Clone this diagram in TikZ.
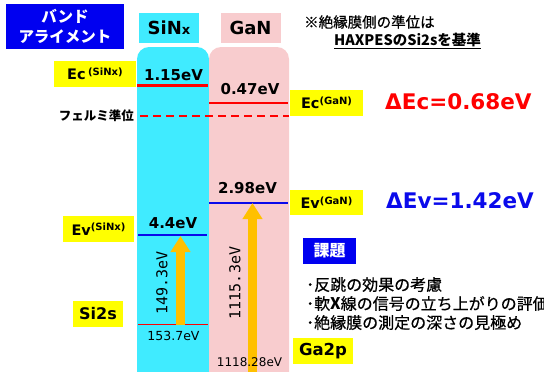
\documentclass[tikz,border=0pt]{standalone}
\usepackage{fontspec}
\setmainfont{DejaVu Sans}
\newfontfamily\jp{Noto Sans CJK JP}
\newfontfamily\jpm{Noto Sans CJK JP}[FakeBold=0.6]
\newfontfamily\monofnt{DejaVu Sans Mono}
\usetikzlibrary{arrows.meta}
\definecolor{cyanc}{RGB}{64,235,255}
\definecolor{pinkc}{RGB}{248,204,206}
\definecolor{bandblue}{RGB}{0,0,240}
\definecolor{ylw}{RGB}{255,255,0}
\definecolor{arrc}{RGB}{255,192,0}
\definecolor{lred}{RGB}{255,0,0}
\definecolor{lblue}{RGB}{10,10,235}
\newcommand{\fs}[1]{\fontsize{#1}{#1}\selectfont}
\tikzset{
  ybox/.style={fill=ylw, inner sep=0pt, anchor=center},
  hdrbox/.style={inner sep=0pt, anchor=center, minimum height=30pt, minimum width=60pt},
  plain/.style={inner sep=0pt, anchor=center},
  redline/.style={draw=lred, line width=2.2pt},
  blueline/.style={draw=lblue, line width=2.2pt},
  bigarrow/.style={draw=arrc, line width=9pt, -{Triangle[width=19pt,length=16pt]}},
}
\begin{document}
\begin{tikzpicture}[x=1pt,y=-1pt]
\useasboundingbox (0,0) rectangle (544,372);
% columns
\fill[cyanc, rounded corners=12pt] (137,390) -- (137,47) -- (209,47) -- (209,390);
\fill[pinkc, rounded corners=12pt] (209,390) -- (209,47) -- (289,47) -- (289,390);
% headers
\node[fill=bandblue, text=white, inner sep=0pt, minimum width=118pt, minimum height=45pt, align=center, font=\jp\bfseries\fontsize{15.5}{20}\selectfont] (band) at (65,26.5) {バンド\\アライメント};
\node[hdrbox, fill=cyanc] (sinx) at (169,28) {\bfseries\fs{18}SiN\fs{13}x};
\node[hdrbox, fill=pinkc] (gan) at (250.5,28) {\bfseries\fs{18}GaN};
% note
\node[plain, anchor=west, font=\jpm\fs{14.5}] (note1) at (304,22) {※絶縁膜側の準位は};
\node[plain, anchor=west, font=\jp\bfseries\fs{14.5}] (note2) at (334,41) {\underline{HAXPESのSi2sを基準}};
% yellow label boxes
\node[ybox, minimum width=82pt, minimum height=26pt] (ecs) at (95,74) {\bfseries\fs{14.5}Ec\,\raisebox{4.5pt}{\fs{10}(SiNx)}};
\node[ybox, minimum width=73pt, minimum height=26pt] (ecg) at (326.5,103) {\bfseries\fs{14.5}Ec\raisebox{4.5pt}{\fs{10}(GaN)}};
\node[ybox, minimum width=73pt, minimum height=25pt] (evg) at (326.5,202.5) {\bfseries\fs{14.5}Ev\raisebox{4.5pt}{\fs{10}(GaN)}};
\node[ybox, minimum width=71pt, minimum height=26pt] (evs) at (98.5,229) {\bfseries\fs{14.5}Ev\raisebox{4.5pt}{\fs{10}(SiNx)}};
\node[ybox, minimum width=50pt, minimum height=26pt] (si2s) at (98,314) {\bfseries\fs{16}Si2s};
\node[ybox, minimum width=60pt, minimum height=26pt] (ga2p) at (323,351) {\bfseries\fs{16.5}Ga2p};
% Fermi
\node[plain, anchor=east, font=\jp\bfseries\fs{12.5}] (fermi) at (134,116) {フェルミ準位};
% level lines
\coordinate (ecsL) at (137,85.5); \coordinate (ecsR) at (208,85.5);
\coordinate (ecgL) at (209,103); \coordinate (ecgR) at (288,103);
\coordinate (efL) at (140,116); \coordinate (efR) at (289,116);
\coordinate (evgL) at (209,203); \coordinate (evgR) at (288,203);
\coordinate (evsL) at (138,235); \coordinate (evsR) at (207,235);
\coordinate (sisL) at (138,324.5); \coordinate (sisR) at (208,324.5);
\draw[redline] (ecsL) -- (ecsR);
\draw[redline] (ecgL) -- (ecgR);
\draw[draw=lred, line width=2pt, dash pattern=on 8pt off 5pt] (efL) -- (efR);
\draw[blueline] (evgL) -- (evgR);
\draw[blueline] (evsL) -- (evsR);
\draw[draw=lred, line width=1pt] (sisL) -- (sisR);
% values
\node[plain, font=\bfseries\fs{15}] (v115) at (173.5,75) {1.15eV};
\node[plain, font=\bfseries\fs{15}] (v047) at (250,89) {0.47eV};
\node[plain, font=\bfseries\fs{15}] (v298) at (247.5,188) {2.98eV};
\node[plain, font=\bfseries\fs{15}] (v44) at (173,223) {4.4eV};
\node[plain, font=\fs{12.5}] (v1537) at (173.5,336) {153.7eV};
% arrows
\coordinate (a1s) at (180.5,324.5); \coordinate (a1e) at (180.5,236);
\coordinate (a2s) at (252.5,380); \coordinate (a2e) at (252.5,203);
\draw[bigarrow] (a1s) -- (a1e);
\draw[bigarrow] (a2s) -- (a2e);
\node[plain, rotate=90, font=\monofnt\fs{15}] (l1493) at (162,283) {149.3eV};
\node[plain, rotate=90, font=\monofnt\fs{15}] (l11153) at (235,283) {1115.3eV};
\node[plain, font=\fs{12}] (v111828) at (249.5,362) {1118.28eV};
% deltas
\node[plain, anchor=west, text=lred, font=\bfseries\fs{21.5}] (dec) at (385,102) {ΔEc=0.68eV};
\node[plain, anchor=west, text=lblue, font=\bfseries\fs{21.5}] (dev) at (386,201) {ΔEv=1.42eV};
% issues
\node[fill=bandblue, text=white, inner sep=0pt, minimum width=53pt, minimum height=26pt, font=\jp\bfseries\fs{16}] (kadai) at (329.5,251) {課題};
\node[plain, anchor=north west, align=left, font=\jpm\fs{16}, text depth=0pt] (issues) at (306,277) {･反跳の効果の考慮\\[3pt]･軟{\jp\bfseries X}線の信号の立ち上がりの評価\\[3pt]･絶縁膜の測定の深さの見極め};
\end{tikzpicture}
\end{document}
